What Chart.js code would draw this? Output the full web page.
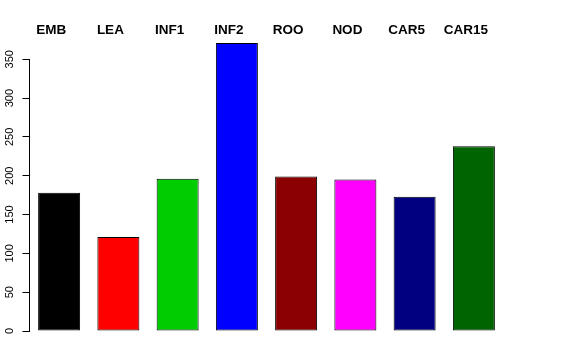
<!DOCTYPE html>
<html>
<head>
<meta charset="utf-8">
<script src="https://cdn.jsdelivr.net/npm/chart.js@4/dist/chart.umd.min.js"></script>
<style>
  html, body { margin: 0; padding: 0; background: #ffffff; }
  #wrap { width: 576px; height: 360px; }
</style>
</head>
<body>
<div id="wrap"><canvas id="c" width="576" height="360"></canvas></div>
<script>
const categories = ["EMB", "LEA", "INF1", "INF2", "ROO", "NOD", "CAR5", "CAR15"];
const values = [178, 121, 196, 371, 199, 195, 173, 238];
const barColors = ["#000000", "#FF0000", "#00CD00", "#0000FF", "#8B0000", "#FF00FF", "#000080", "#006400"];
const yTicks = [0, 50, 100, 150, 200, 250, 300, 350];

const labelsPlugin = {
  id: 'rLabels',
  afterDraw(chart) {
    const ctx = chart.ctx;
    const xs = chart.scales.x;
    const ys = chart.scales.y;
    ctx.save();
    // top category labels
    ctx.fillStyle = '#000000';
    ctx.font = 'bold 13.5px "Liberation Sans", Arial, sans-serif';
    ctx.textAlign = 'center';
    ctx.textBaseline = 'middle';
    categories.forEach((c, i) => {
      ctx.fillText(c, xs.getPixelForValue(i) - 8, 30);
    });
    // rotated y tick labels
    ctx.font = '11px "Liberation Sans", Arial, sans-serif';
    ctx.textBaseline = 'alphabetic';
    ctx.textAlign = 'center';
    yTicks.forEach(v => {
      const y = ys.getPixelForValue(v);
      ctx.save();
      ctx.translate(12.5, y);
      ctx.rotate(-Math.PI / 2);
      ctx.fillText(String(v), 0, 0);
      ctx.restore();
    });
    ctx.restore();
  }
};

new Chart(document.getElementById('c'), {
  type: 'bar',
  data: {
    labels: categories,
    datasets: [{
      data: values,
      backgroundColor: barColors,
      borderColor: '#000000',
      borderWidth: 1,
      borderSkipped: false,
      categoryPercentage: 1.0,
      barPercentage: 0.709,
      clip: false
    }]
  },
  options: {
    responsive: false,
    animation: false,
    devicePixelRatio: 1,
    layout: { padding: { left: 0, right: 72.5, top: 59.3, bottom: 29 } },
    plugins: { legend: { display: false }, tooltip: { enabled: false } },
    scales: {
      x: {
        display: false,
        offset: true
      },
      y: {
        min: 0,
        max: 350,
        afterFit: s => { s.width = 29.5; },
        afterBuildTicks: s => { s.ticks = yTicks.map(v => ({ value: v })); },
        ticks: { display: false, stepSize: 50 },
        grid: { drawOnChartArea: false, drawTicks: true, tickLength: 7, color: '#000000', lineWidth: 1 },
        border: { display: true, color: '#000000', width: 1 }
      }
    }
  },
  plugins: [labelsPlugin]
});
</script>
</body>
</html>
